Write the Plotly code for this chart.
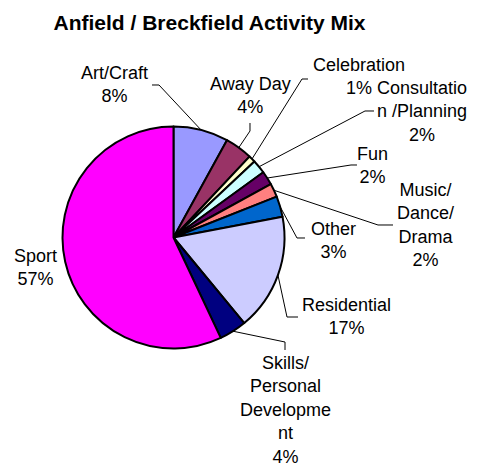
import math
import plotly.graph_objects as go

# Activity shares (percent), listed clockwise from 12 o'clock
activities = [
    "Art/Craft", "Away Day", "Celebration", "Consultation /Planning", "Fun",
    "Music/ Dance/ Drama", "Other", "Residential",
    "Skills/ Personal Development", "Sport",
]
shares = [8, 4, 1, 2, 2, 2, 3, 17, 4, 57]
label_text = [
    "Art/Craft", "Away Day", "Celebration", "Consultatio<br>n /Planning", "Fun",
    "Music/<br>Dance/<br>Drama", "Other", "Residential",
    "Skills/<br>Personal<br>Developme<br>nt", "Sport",
]
colors = [
    "#9999FF", "#993366", "#FFFFCC", "#CCFFFF", "#660066",
    "#FF8080", "#0066CC", "#CCCCFF", "#000080", "#FF00FF",
]

W, H = 479, 470
CX, CY, R = 173.5, 237.5, 111.0

# label centre positions (px) and leader-line elbow/end points (px)
label_pos = [
    (114.5, 84.5), (250, 95), (358.5, 77), (422, 111), (372, 165.5),
    (425.5, 224.5), (333.5, 240.5), (346, 316.5), (285, 410), (35, 267),
]
leader_pts = [
    [(159, 85), (152, 85)],
    [(250, 131), (250, 123)],
    [(302, 79), (308, 79)],
    [(365, 111), (374, 111)],
    [(351, 165), (357, 165)],
    [(378, 225), (393, 225)],
    [(297, 238), (305, 238)],
    [(287, 317), (298, 317)],
    [(285, 342), (285, 350)],
    None,
]


def px(x, y):
    return x / W, 1 - y / H


fig = go.Figure(go.Pie(
    labels=activities,
    values=shares,
    sort=False,
    direction="clockwise",
    rotation=0,
    marker=dict(colors=colors, line=dict(color="black", width=2)),
    textinfo="none",
    hoverinfo="skip",
    showlegend=False,
    domain=dict(x=[(CX - R) / W, (CX + R) / W],
                y=[1 - (CY + R) / H, 1 - (CY - R) / H]),
))

total = sum(shares)
cum = 0
annotations = []
shapes = []
for name, v, (lx, ly), pts in zip(label_text, shares, label_pos, leader_pts):
    mid = 2 * math.pi * (cum + v / 2) / total
    cum += v
    pct = round(100 * v / total)
    ax, ay = px(lx, ly)
    annotations.append(dict(
        x=ax, y=ay, xref="paper", yref="paper",
        text=f"{name}<br>{pct}%", showarrow=False,
        xanchor="center", yanchor="middle", align="center",
        font=dict(family="Liberation Sans, Arial", size=18, color="black"),
    ))
    if pts:
        ex = CX + R * math.sin(mid)
        ey = CY - R * math.cos(mid)
        path_pts = [(ex, ey)] + pts
        path = "M " + " L ".join(
            f"{px(x, y)[0]:.5f},{px(x, y)[1]:.5f}" for x, y in path_pts)
        shapes.append(dict(type="path", path=path, xref="paper", yref="paper",
                           line=dict(color="black", width=1)))

fig.update_layout(
    width=W, height=H,
    margin=dict(l=0, r=0, t=0, b=0),
    paper_bgcolor="white",
    plot_bgcolor="white",
    title=dict(
        text="<b>Anfield / Breckfield Activity Mix</b>",
        x=209.5 / W, xanchor="center",
        y=1 - 23 / H, yanchor="middle",
        font=dict(family="Liberation Sans, Arial", size=21, color="black"),
    ),
    annotations=annotations,
    shapes=shapes,
)

fig.write_html("out.html")
